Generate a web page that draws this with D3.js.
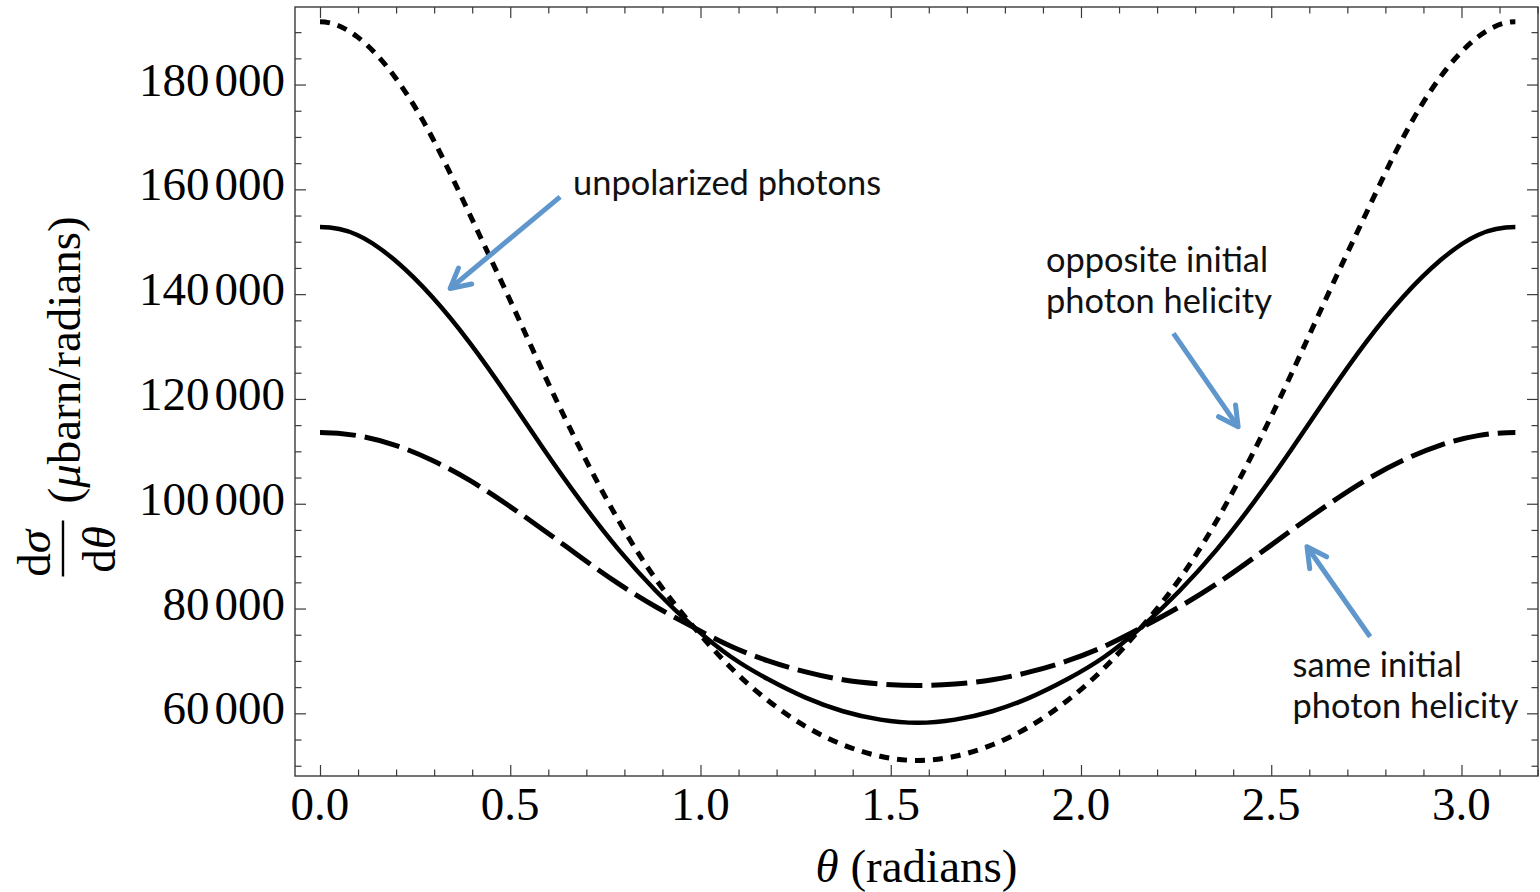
<!DOCTYPE html>
<html>
<head>
<meta charset="utf-8">
<script src="https://cdn.jsdelivr.net/npm/d3@7"></script>
<style>
  html, body { margin: 0; padding: 0; background: #fff; }
  svg { display: block; }
</style>
</head>
<body>
<svg id="chart" width="1540" height="892"></svg>
<script>
// Scattering angle θ (radians), sampled every π/32 from 0 to π
const theta = [
  0, 0.0982, 0.1963, 0.2945, 0.3927, 0.4909, 0.5890, 0.6872, 0.7854,
  0.8836, 0.9817, 1.0799, 1.1781, 1.2763, 1.3744, 1.4726, 1.5708,
  1.6690, 1.7671, 1.8653, 1.9635, 2.0617, 2.1598, 2.2580, 2.3562,
  2.4544, 2.5525, 2.6507, 2.7489, 2.8471, 2.9452, 3.0434, 3.1416
];

// dσ/dθ in μbarn/radian — opposite initial photon helicity (dotted)
const oppositeHelicity = [
  192000, 189100, 181500, 169950, 155350, 140200, 124700, 110000, 96700,
  85500, 76500, 68700, 62400, 57500, 54000, 51800, 51000,
  51800, 54000, 57500, 62400, 68700, 76500, 85500, 96700,
  110000, 124700, 140200, 155350, 169950, 181500, 189100, 192000
];

// unpolarized photons (solid)
const unpolarized = [
  152800, 151300, 146500, 139500, 130800, 120800, 110300, 100300, 91200,
  83300, 76500, 70800, 66500, 63000, 60400, 58800, 58200,
  58800, 60400, 63000, 66500, 70800, 76500, 83300, 91200,
  100300, 110300, 120800, 130800, 139500, 146500, 151300, 152800
];

// same initial photon helicity (long dashes)
const sameHelicity = [
  113600, 113000, 111200, 108300, 104500, 99900, 94900, 89700, 84700,
  80300, 76400, 72800, 70000, 67900, 66400, 65600, 65300,
  65600, 66400, 67900, 70000, 72800, 76400, 80300, 84700,
  89700, 94900, 99900, 104500, 108300, 111200, 113000, 113600
];

// Axis ticks
const xMajorTicks = [0, 0.5, 1.0, 1.5, 2.0, 2.5, 3.0];
const xMinorTicks = d3.range(0, 3.21, 0.1).map(v => +v.toFixed(1));
const yMajorTicks = [60000, 80000, 100000, 120000, 140000, 160000, 180000];
const yMinorTicks = d3.range(50000, 190001, 5000);

const svg = d3.select("#chart");
const frame = { left: 295, right: 1538, top: 7, bottom: 776 };

const x = d3.scaleLinear().domain([-0.0657, 3.2011]).range([frame.left, frame.right]);
const y = d3.scaleLinear().domain([48040, 194800]).range([frame.bottom, frame.top]);

const serif = "'Liberation Serif', 'Times New Roman', serif";
const frameColor = "#3a3a3a";

// Cubic spline through the samples with flat (zero-slope) ends,
// written as a d3 curve factory so d3.line can use it.
function curveClampedSpline(context) {
  return {
    areaStart() {}, areaEnd() {},
    lineStart() { this._x = []; this._y = []; },
    point(px, py) { this._x.push(+px); this._y.push(+py); },
    lineEnd() {
      const X = this._x, Y = this._y, n = X.length - 1;
      if (n < 1) return;
      const h = d3.range(n).map(i => X[i + 1] - X[i]);
      // tridiagonal system for second derivatives M
      const a = new Array(n + 1).fill(0), b = new Array(n + 1).fill(0),
            c = new Array(n + 1).fill(0), r = new Array(n + 1).fill(0);
      b[0] = 2 * h[0]; c[0] = h[0]; r[0] = 6 * ((Y[1] - Y[0]) / h[0]);
      for (let i = 1; i < n; i++) {
        a[i] = h[i - 1]; b[i] = 2 * (h[i - 1] + h[i]); c[i] = h[i];
        r[i] = 6 * ((Y[i + 1] - Y[i]) / h[i] - (Y[i] - Y[i - 1]) / h[i - 1]);
      }
      a[n] = h[n - 1]; b[n] = 2 * h[n - 1]; r[n] = 6 * (-(Y[n] - Y[n - 1]) / h[n - 1]);
      for (let i = 1; i <= n; i++) {
        const m = a[i] / b[i - 1];
        b[i] -= m * c[i - 1]; r[i] -= m * r[i - 1];
      }
      const M = new Array(n + 1);
      M[n] = r[n] / b[n];
      for (let i = n - 1; i >= 0; i--) M[i] = (r[i] - c[i] * M[i + 1]) / b[i];
      context.moveTo(X[0], Y[0]);
      for (let i = 0; i < n; i++) {
        const s = (Y[i + 1] - Y[i]) / h[i];
        const d0 = s - h[i] * (2 * M[i] + M[i + 1]) / 6;
        const d1 = s + h[i] * (M[i] + 2 * M[i + 1]) / 6;
        context.bezierCurveTo(
          X[i] + h[i] / 3, Y[i] + d0 * h[i] / 3,
          X[i + 1] - h[i] / 3, Y[i + 1] - d1 * h[i] / 3,
          X[i + 1], Y[i + 1]);
      }
    }
  };
}

// ---- frame ticks (inward on all four sides) ----
function tickGroup(axisGen, transform) {
  const g = svg.append("g").attr("transform", transform).call(axisGen);
  g.select(".domain").remove();
  g.selectAll("text").remove();
  g.selectAll("line").attr("stroke", frameColor).attr("stroke-width", 1.2);
  return g;
}
const minorX = xMinorTicks.filter(t => !xMajorTicks.some(m => Math.abs(m - t) < 1e-6));
const minorY = yMinorTicks.filter(t => !yMajorTicks.includes(t));

tickGroup(d3.axisBottom(x).tickValues(xMajorTicks).tickSize(-11), `translate(0,${frame.bottom})`);
tickGroup(d3.axisBottom(x).tickValues(minorX).tickSize(-6.5), `translate(0,${frame.bottom})`);
tickGroup(d3.axisTop(x).tickValues(xMajorTicks).tickSize(-11), `translate(0,${frame.top})`);
tickGroup(d3.axisTop(x).tickValues(minorX).tickSize(-6.5), `translate(0,${frame.top})`);
tickGroup(d3.axisLeft(y).tickValues(yMajorTicks).tickSize(-11), `translate(${frame.left},0)`);
tickGroup(d3.axisLeft(y).tickValues(minorY).tickSize(-6.5), `translate(${frame.left},0)`);
tickGroup(d3.axisRight(y).tickValues(yMajorTicks).tickSize(-11), `translate(${frame.right},0)`);
tickGroup(d3.axisRight(y).tickValues(minorY).tickSize(-6.5), `translate(${frame.right},0)`);

// frame box
svg.append("rect")
  .attr("x", frame.left).attr("y", frame.top)
  .attr("width", frame.right - frame.left).attr("height", frame.bottom - frame.top)
  .attr("fill", "none").attr("stroke", frameColor).attr("stroke-width", 1.4);

// ---- tick labels ----
svg.append("g").selectAll("text").data(xMajorTicks).join("text")
  .attr("x", d => x(d)).attr("y", frame.bottom + 43.5)
  .attr("text-anchor", "middle")
  .attr("font-family", serif).attr("font-size", 47)
  .text(d => d.toFixed(1));

const yLabels = svg.append("g").selectAll("text").data(yMajorTicks).join("text")
  .attr("x", frame.left - 10).attr("y", d => y(d) + 11)
  .attr("text-anchor", "end")
  .attr("font-family", serif).attr("font-size", 47);
yLabels.each(function(d) {
  const s = String(d);
  const head = s.slice(0, s.length - 3), tail = s.slice(-3);
  const t = d3.select(this);
  t.append("tspan").text(head);
  t.append("tspan").attr("dx", 5).text(tail);
});

// ---- axis titles ----
const xTitle = svg.append("text")
  .attr("x", (frame.left + frame.right) / 2).attr("y", 882)
  .attr("text-anchor", "middle")
  .attr("font-family", serif).attr("font-size", 47);
xTitle.append("tspan").attr("font-style", "italic").text("θ");
xTitle.append("tspan").text(" (radians)");

const yTitle = svg.append("g")
  .attr("transform", `translate(80,${(frame.top + frame.bottom) / 2}) rotate(-90)`)
  .attr("font-family", serif).attr("font-size", 47);
const num = yTitle.append("text").attr("x", -162).attr("y", -30).attr("text-anchor", "middle");
num.append("tspan").text("d");
num.append("tspan").attr("font-style", "italic").text("σ");
yTitle.append("line")
  .attr("x1", -185).attr("x2", -129).attr("y1", -17).attr("y2", -17)
  .attr("stroke", "#000").attr("stroke-width", 2.4);
const den = yTitle.append("text").attr("x", -158).attr("y", 35).attr("text-anchor", "middle");
den.append("tspan").text("d");
den.append("tspan").attr("font-style", "italic").text("θ");
const unit = yTitle.append("text").attr("x", -112).attr("y", 0).attr("text-anchor", "start");
unit.append("tspan").text("(");
unit.append("tspan").attr("font-style", "italic").text("μ");
unit.append("tspan").text("barn/radians)");

// ---- curves ----
const series = [
  { name: "opposite initial photon helicity", values: oppositeHelicity, dash: "10,8", width: 5 },
  { name: "unpolarized photons", values: unpolarized, dash: null, width: 4.5 },
  { name: "same initial photon helicity", values: sameHelicity, dash: "36,9", width: 5 }
];
const line = d3.line()
  .x((d, i) => x(theta[i]))
  .y(d => y(d))
  .curve(curveClampedSpline);

svg.append("g").selectAll("path").data(series).join("path")
  .attr("d", d => line(d.values))
  .attr("fill", "none")
  .attr("stroke", "#000")
  .attr("stroke-width", d => d.width)
  .attr("stroke-dasharray", d => d.dash)
  .attr("stroke-linecap", "butt")
  .attr("stroke-linejoin", "round");

// ---- annotations ----
const arrowColor = "#5f97cd";
const notes = [
  { lines: ["unpolarized photons"], x: 573, y: 195 },
  { lines: ["opposite initial", "photon helicity"], x: 1046, y: 271.5 },
  { lines: ["same initial", "photon helicity"], x: 1292.5, y: 676.5 }
];
// arrows: tail → head in data units (θ, dσ/dθ)
const arrows = [
  { from: [0.631, 158560], to: [0.342, 141080] },
  { from: [2.243, 132500], to: [2.413, 114680] },
  { from: [2.760, 74610], to: [2.594, 91780] }
];

const noteFont = "Lato, 'Open Sans', sans-serif";
// size the annotation font so "photon helicity" spans ~226px
const probe = svg.append("text").attr("font-family", noteFont).attr("font-size", 30).text("photon helicity");
const noteSize = 30 * 226 / probe.node().getComputedTextLength();
probe.remove();

const noteG = svg.append("g").attr("font-family", noteFont).attr("font-size", noteSize).attr("fill", "#111");
notes.forEach(n => {
  n.lines.forEach((s, i) => {
    noteG.append("text").attr("x", n.x).attr("y", n.y + i * 41.5).text(s);
  });
});

const arrowG = svg.append("g")
  .attr("stroke", arrowColor).attr("stroke-width", 5).attr("fill", "none")
  .attr("stroke-linecap", "round").attr("stroke-linejoin", "round");
arrows.forEach(a => {
  const x0 = x(a.from[0]), y0 = y(a.from[1]);
  const x1 = x(a.to[0]), y1 = y(a.to[1]);
  const ang = Math.atan2(y0 - y1, x0 - x1);
  const len = 22, spread = 28 * Math.PI / 180;
  arrowG.append("line").attr("x1", x0).attr("y1", y0).attr("x2", x1).attr("y2", y1).attr("stroke-linecap", "butt");
  arrowG.append("path").attr("d",
    `M${x1 + len * Math.cos(ang + spread)},${y1 + len * Math.sin(ang + spread)}` +
    `L${x1},${y1}` +
    `L${x1 + len * Math.cos(ang - spread)},${y1 + len * Math.sin(ang - spread)}`);
});
</script>
</body>
</html>
